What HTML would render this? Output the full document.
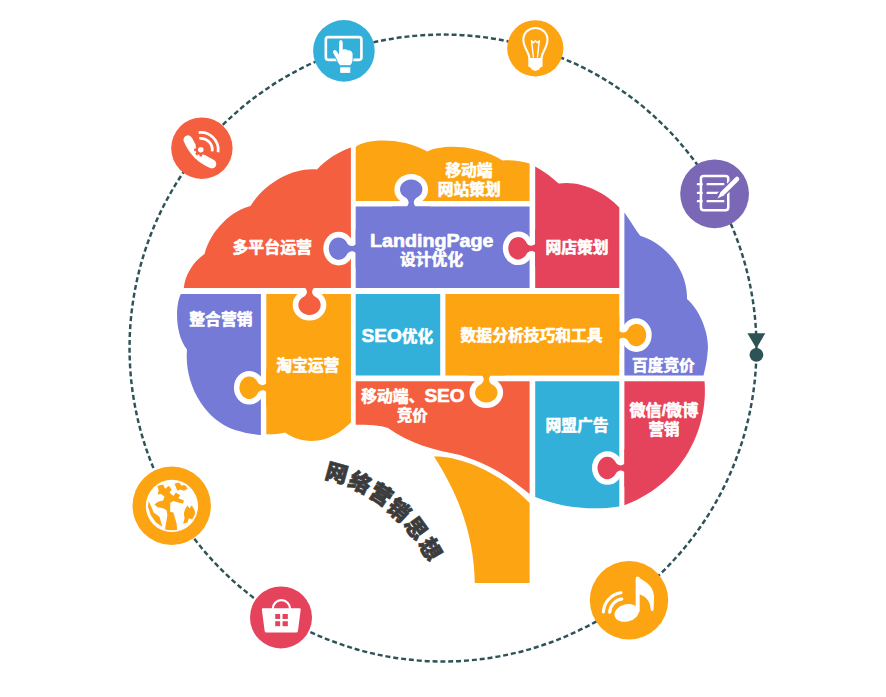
<!DOCTYPE html><html><head><meta charset="utf-8"><title>网络营销思想</title><style>html,body{margin:0;padding:0;background:#fff}svg{display:block}</style></head><body><svg width="886" height="697" viewBox="0 0 886 697">
<rect width="886" height="697" fill="#fff"/>
<circle cx="443.0" cy="348.0" r="313.45" fill="none" stroke="#2D5356" stroke-width="2.45" stroke-dasharray="5 2.9"/>
<path d="M350.9,147.6 C340,151 327,159 317,169.4 C295,167 266,181 250.5,206 C233,210 211,229 204.5,254 C193,262 185,275 183.8,288.0 L350.9,288.0 Z" fill="#F45F40"/>
<path d="M355.7,146.9 C365,139 400,136 427.4,151.4 C445,143 480,146 502.6,160.4 C512,159.5 522,161 529.6,163.5 L529.6,201.0 L355.7,201.0 Z" fill="#FDA412"/>
<path d="M355.7,206.4 H529.6 V288.0 H355.7 Z" fill="#747AD6"/>
<path d="M535.2,166.4 C545,172 553,178 558.7,183.6 C580,180 605,192 619.3,207.5 L619.3,288.0 L535.2,288.0 Z" fill="#E5435B"/>
<path d="M624.4,212.4 C630,220 635,229 640.2,235.8 C665,243 688,270 687,299 C700,310 710,335 707.6,352 C707,362 705,369 703.5,375.6 L624.4,375.6 Z" fill="#747AD6"/>
<path d="M180.9,293.9 C175,305 175,335 187,349.5 C184,385 205,420 235,430 C245,433 253,434.5 260.9,435 L260.9,293.9 Z" fill="#747AD6"/>
<path d="M266.3,293.9 H350.9 V422.6 C340,433 328,441 312,441 C300,441 292,437 285,432.5 C280,434 272,434.5 266.3,434.3 Z" fill="#FDA412"/>
<path d="M355.7,293.9 H440.2 V375.6 H355.7 Z" fill="#33B0DA"/>
<path d="M445.4,293.9 H619.3 V375.6 H445.4 Z" fill="#FDA412"/>
<path d="M355.7,381.2 H529.6 V494 C510,478 490,464 460,455 C435,450 410,444 388,428 C380,425 368,425 355.7,424.8 Z" fill="#F45F40"/>
<path d="M535.2,381.2 H619.3 V506.5 C590,511 560,507 535.2,497 Z" fill="#33B0DA"/>
<path d="M624.4,381.2 H704.5 C708,420 690,480 624.4,505.3 Z" fill="#E5435B"/>
<path d="M434,456.6 C460,456 500,472 529.6,503 V583 H474.8 C474,540 462,500 434,456.6 Z" fill="#FDA412"/>
<ellipse cx="338.70" cy="248.60" rx="15.40" ry="16.80" fill="#fff"/><path d="M358.70,267.40 L355.70,267.40 L355.70,229.80 L358.70,229.80 Z" fill="#747AD6"/><path d="M357.20,252.80 L355.70,252.80 C354.10,251.60 352.90,251.20 351.70,251.20 C350.10,251.20 348.70,252.20 347.40,253.50 A9.80,11.20 0 1 1 347.40,243.70 C348.70,245.00 350.10,246.00 351.70,246.00 C352.90,246.00 354.10,245.60 355.70,244.40 L357.20,244.40 Z" fill="#747AD6"/>
<ellipse cx="411.20" cy="189.40" rx="16.80" ry="15.40" fill="#fff"/><path d="M392.40,209.40 L392.40,206.40 L430.00,206.40 L430.00,209.40 Z" fill="#747AD6"/><path d="M407.00,207.90 L407.00,206.40 C408.20,204.80 408.60,203.60 408.60,202.40 C408.60,200.80 407.60,199.40 406.30,198.10 A9.80,11.20 90 1 1 416.10,198.10 C414.80,199.40 413.80,200.80 413.80,202.40 C413.80,203.60 414.20,204.80 415.40,206.40 L415.40,207.90 Z" fill="#747AD6"/>
<ellipse cx="518.20" cy="248.30" rx="15.40" ry="16.80" fill="#fff"/><path d="M538.20,267.10 L535.20,267.10 L535.20,229.50 L538.20,229.50 Z" fill="#E5435B"/><path d="M536.70,252.50 L535.20,252.50 C533.60,251.30 532.40,250.90 531.20,250.90 C529.60,250.90 528.20,251.90 526.90,253.20 A9.80,11.20 0 1 1 526.90,243.40 C528.20,244.70 529.60,245.70 531.20,245.70 C532.40,245.70 533.60,245.30 535.20,244.10 L536.70,244.10 Z" fill="#E5435B"/>
<ellipse cx="309.50" cy="305.00" rx="16.80" ry="15.40" fill="#fff"/><path d="M328.30,285.00 L328.30,288.00 L290.70,288.00 L290.70,285.00 Z" fill="#F45F40"/><path d="M313.70,286.50 L313.70,288.00 C312.50,289.60 312.10,290.80 312.10,292.00 C312.10,293.60 313.10,295.00 314.40,296.30 A9.80,11.20 90 1 1 304.60,296.30 C305.90,295.00 306.90,293.60 306.90,292.00 C306.90,290.80 306.50,289.60 305.30,288.00 L305.30,286.50 Z" fill="#F45F40"/>
<ellipse cx="249.30" cy="387.75" rx="15.40" ry="16.80" fill="#fff"/><path d="M269.30,406.55 L266.30,406.55 L266.30,368.95 L269.30,368.95 Z" fill="#FDA412"/><path d="M267.80,391.95 L266.30,391.95 C264.70,390.75 263.50,390.35 262.30,390.35 C260.70,390.35 259.30,391.35 258.00,392.65 A9.80,11.20 0 1 1 258.00,382.85 C259.30,384.15 260.70,385.15 262.30,385.15 C263.50,385.15 264.70,384.75 266.30,383.55 L267.80,383.55 Z" fill="#FDA412"/>
<ellipse cx="486.30" cy="392.60" rx="16.80" ry="15.40" fill="#fff"/><path d="M505.10,372.60 L505.10,375.60 L467.50,375.60 L467.50,372.60 Z" fill="#FDA412"/><path d="M490.50,374.10 L490.50,375.60 C489.30,377.20 488.90,378.40 488.90,379.60 C488.90,381.20 489.90,382.60 491.20,383.90 A9.80,11.20 90 1 1 481.40,383.90 C482.70,382.60 483.70,381.20 483.70,379.60 C483.70,378.40 483.30,377.20 482.10,375.60 L482.10,374.10 Z" fill="#FDA412"/>
<ellipse cx="636.30" cy="335.10" rx="15.40" ry="16.80" fill="#fff"/><path d="M616.30,316.30 L619.30,316.30 L619.30,353.90 L616.30,353.90 Z" fill="#FDA412"/><path d="M617.80,330.90 L619.30,330.90 C620.90,332.10 622.10,332.50 623.30,332.50 C624.90,332.50 626.30,331.50 627.60,330.20 A9.80,11.20 0 1 1 627.60,340.00 C626.30,338.70 624.90,337.70 623.30,337.70 C622.10,337.70 620.90,338.10 619.30,339.30 L617.80,339.30 Z" fill="#FDA412"/>
<ellipse cx="607.40" cy="468.00" rx="15.40" ry="16.80" fill="#fff"/><path d="M627.40,486.80 L624.40,486.80 L624.40,449.20 L627.40,449.20 Z" fill="#E5435B"/><path d="M625.90,472.20 L624.40,472.20 C622.80,471.00 621.60,470.60 620.40,470.60 C618.80,470.60 617.40,471.60 616.10,472.90 A9.80,11.20 0 1 1 616.10,463.10 C617.40,464.40 618.80,465.40 620.40,465.40 C621.60,465.40 622.80,465.00 624.40,463.80 L625.90,463.80 Z" fill="#E5435B"/>
<g font-family='"Liberation Sans","Noto Sans CJK SC",sans-serif' font-weight="700" fill="#fff" stroke="#fff" stroke-width="0.6" stroke-linejoin="round">
<text x="272.2" y="247" font-size="15.8" text-anchor="middle" dominant-baseline="central" textLength="79.6" lengthAdjust="spacingAndGlyphs">多平台运营</text>
<text x="469" y="170.7" font-size="15.6" text-anchor="middle" dominant-baseline="central" textLength="47.2" lengthAdjust="spacingAndGlyphs">移动端</text>
<text x="469.3" y="189.3" font-size="15.6" text-anchor="middle" dominant-baseline="central" textLength="63" lengthAdjust="spacingAndGlyphs">网站策划</text>
<text x="431.7" y="247.2" font-size="17.8" text-anchor="middle" textLength="123.4" lengthAdjust="spacingAndGlyphs">LandingPage</text>
<text x="431.6" y="259.7" font-size="15.6" text-anchor="middle" dominant-baseline="central" textLength="63.2" lengthAdjust="spacingAndGlyphs">设计优化</text>
<text x="577" y="247.3" font-size="15.6" text-anchor="middle" dominant-baseline="central" textLength="63.2" lengthAdjust="spacingAndGlyphs">网店策划</text>
<text x="220.9" y="319.5" font-size="15.6" text-anchor="middle" dominant-baseline="central" textLength="63.2" lengthAdjust="spacingAndGlyphs">整合营销</text>
<text x="307.8" y="365.5" font-size="15.6" text-anchor="middle" dominant-baseline="central" textLength="63.2" lengthAdjust="spacingAndGlyphs">淘宝运营</text>
<text x="361.6" y="341.9" font-size="15.6"><tspan font-size="18.4" textLength="40.2" lengthAdjust="spacingAndGlyphs">SEO</tspan><tspan textLength="31.4" lengthAdjust="spacingAndGlyphs">优化</tspan></text>
<text x="531.6" y="335" font-size="15.6" text-anchor="middle" dominant-baseline="central" textLength="142" lengthAdjust="spacingAndGlyphs">数据分析技巧和工具</text>
<text x="663.4" y="365.3" font-size="15.6" text-anchor="middle" dominant-baseline="central" textLength="62.8" lengthAdjust="spacingAndGlyphs">百度竞价</text>
<text x="361.2" y="402.1" font-size="15.6"><tspan textLength="63.2" lengthAdjust="spacingAndGlyphs">移动端、</tspan><tspan font-size="18.4" textLength="40.2" lengthAdjust="spacingAndGlyphs">SEO</tspan></text>
<text x="412.3" y="415.1" font-size="15.6" text-anchor="middle" dominant-baseline="central" textLength="30.8" lengthAdjust="spacingAndGlyphs">竞价</text>
<text x="577" y="425" font-size="15.6" text-anchor="middle" dominant-baseline="central" textLength="63" lengthAdjust="spacingAndGlyphs">网盟广告</text>
<text x="663.9" y="410" font-size="15.6" text-anchor="middle" dominant-baseline="central" textLength="69" lengthAdjust="spacingAndGlyphs">微信/微博</text>
<text x="663.9" y="429.5" font-size="15.6" text-anchor="middle" dominant-baseline="central" textLength="31" lengthAdjust="spacingAndGlyphs">营销</text>
</g>
<g font-family='"Liberation Sans","Noto Sans CJK SC",sans-serif'>
<text transform="translate(336.7,473.4) rotate(15.5)" font-size="22" font-weight="900" fill="#3b3b3b" stroke="#3b3b3b" stroke-width="0.7" text-anchor="middle" dominant-baseline="central">网</text>
<text transform="translate(360.0,483) rotate(25)" font-size="22" font-weight="900" fill="#3b3b3b" stroke="#3b3b3b" stroke-width="0.7" text-anchor="middle" dominant-baseline="central">络</text>
<text transform="translate(380.8,495.0) rotate(33)" font-size="22" font-weight="900" fill="#3b3b3b" stroke="#3b3b3b" stroke-width="0.7" text-anchor="middle" dominant-baseline="central">营</text>
<text transform="translate(398.3,510.6) rotate(43)" font-size="22" font-weight="900" fill="#3b3b3b" stroke="#3b3b3b" stroke-width="0.7" text-anchor="middle" dominant-baseline="central">销</text>
<text transform="translate(415.6,528.6) rotate(54)" font-size="22" font-weight="900" fill="#3b3b3b" stroke="#3b3b3b" stroke-width="0.7" text-anchor="middle" dominant-baseline="central">思</text>
<text transform="translate(429.9,549.3) rotate(60)" font-size="22" font-weight="900" fill="#3b3b3b" stroke="#3b3b3b" stroke-width="0.7" text-anchor="middle" dominant-baseline="central">想</text>
</g>
<circle cx="343.9" cy="50.9" r="30.8" fill="#33B0DA"/>
<circle cx="535.3" cy="48.3" r="28.1" fill="#FDA412"/>
<circle cx="201.9" cy="148.2" r="30.7" fill="#F45F40"/>
<circle cx="714.6" cy="193.8" r="34.4" fill="#7A68B7"/>
<circle cx="171.7" cy="505.8" r="39.2" fill="#FDA412"/>
<circle cx="281" cy="617.4" r="31" fill="#E5435B"/>
<circle cx="629" cy="600.2" r="39.2" fill="#FDA412"/>
<path d="M747.4,333.2 L765.3,333.2 L756.4,348.5 Z" fill="#2D5356"/>
<circle cx="756.4" cy="354.8" r="6.9" fill="#2D5356"/>
<g transform="translate(303,10) scale(0.11477761836441894)">
<rect x="199" y="236" width="310" height="198" rx="22" fill="none" stroke="#fff" stroke-width="23"/>
<path d="M314,285 Q314,262 330,262 Q346,262 346,285 L346,345 Q375,335 392,352 Q420,348 432,378 L432,440 Q430,462 412,482 L412,500 L322,500 L322,482 Q300,455 290,420 L262,372 Q256,352 274,348 Q286,346 296,362 L314,390 Z" fill="#fff" stroke="#33B0DA" stroke-width="14" stroke-linejoin="round"/>
<path d="M314,285 Q314,262 330,262 Q346,262 346,285 L346,345 Q375,335 392,352 Q420,348 432,378 L432,440 Q430,462 412,482 L412,500 L322,500 L322,482 Q300,455 290,420 L262,372 Q256,352 274,348 Q286,346 296,362 L314,390 Z" fill="#fff"/>
<rect x="318" y="478" width="98" height="22" fill="#33B0DA"/>
<rect x="322" y="455" width="90" height="26" fill="#fff"/>
<rect x="324" y="500" width="88" height="48" fill="#fff"/>
</g>
<g transform="translate(495,10) scale(0.11477761836441894)" fill="none" stroke="#fff">
<path d="M300,425 C300,370 247,330 247,258 C247,200 294,157 352,157 C410,157 457,200 457,258 C457,330 405,370 405,425" stroke-width="18"/>
<path d="M335,415 L318,268 L335,285 L352,268 L369,285 L386,268 L369,415" stroke-width="12" stroke-linejoin="round"/>
<path d="M290,418 H414 V492 L395,500 L385,518 L352,532 L319,518 L309,500 L290,492 Z" fill="#fff" stroke="none"/>
</g>
<g transform="translate(162,110) scale(0.11477761836441894)">
<path d="M226,260 Q290,410 434,470" fill="none" stroke="#fff" stroke-width="78" stroke-linecap="round"/>
<g transform="translate(338,347)" fill="#F45F40"><circle r="46"/><rect x="-11" y="-58" width="22" height="24" transform="rotate(0)" /><rect x="-11" y="-58" width="22" height="24" transform="rotate(45)" /><rect x="-11" y="-58" width="22" height="24" transform="rotate(90)" /><rect x="-11" y="-58" width="22" height="24" transform="rotate(135)" /><rect x="-11" y="-58" width="22" height="24" transform="rotate(180)" /><rect x="-11" y="-58" width="22" height="24" transform="rotate(225)" /><rect x="-11" y="-58" width="22" height="24" transform="rotate(270)" /><rect x="-11" y="-58" width="22" height="24" transform="rotate(315)" /><circle r="24" fill="#fff"/></g>
<path d="M325.8,247.7 A100,100 0 0 1 437.0,360.9" fill="none" stroke="#fff" stroke-width="24"/>
<path d="M319.5,196.1 A152,152 0 0 1 488.5,368.2" fill="none" stroke="#fff" stroke-width="24"/>
</g>
<g transform="translate(675,153) scale(0.11477761836441894)">
<rect x="226" y="201" width="238" height="298" rx="24" fill="none" stroke="#fff" stroke-width="22"/>
<rect x="190" y="262" width="52" height="20" rx="8" fill="#fff"/>
<rect x="275" y="262" width="155" height="20" rx="6" fill="#fff"/>
<rect x="190" y="338" width="52" height="20" rx="8" fill="#fff"/>
<rect x="275" y="338" width="155" height="20" rx="6" fill="#fff"/>
<rect x="190" y="410" width="52" height="20" rx="8" fill="#fff"/>
<rect x="275" y="410" width="155" height="20" rx="6" fill="#fff"/>
<path d="M545,222 L398,369" stroke="#7A68B7" stroke-width="66" stroke-linecap="round"/>
<path d="M540,227 L412,355" stroke="#fff" stroke-width="40" stroke-linecap="round"/>
<path d="M398,341 L426,369 L370,397 Z" fill="#fff"/>
</g>
<g transform="translate(120,455) scale(0.14347202295552366)">
<circle cx="362" cy="355" r="182" fill="#fff"/>
<clipPath id="gc"><circle cx="362" cy="355" r="170"/></clipPath>
<g clip-path="url(#gc)" fill="#FDA412">
<path d="M258,215 L300,205 L315,235 L340,215 L360,240 L345,262 L372,285 L390,262 L420,282 L405,300 L445,318 L440,338 L400,330 L372,320 L350,335 L350,395 L372,400 L395,480 L400,540 L310,540 L330,420 L325,385 L300,372 L262,365 L240,345 L265,325 L300,318 L310,290 L285,272 L262,275 L270,245 Z"/>
<path d="M200,320 L235,400 L275,430 L295,500 L250,470 L215,420 L195,360 Z"/>
<path d="M455,375 L470,352 L485,372 L500,350 L520,385 L525,420 L505,450 L480,440 L470,470 L440,480 L450,440 L445,405 Z"/>
<path d="M380,200 L410,190 L430,215 L455,205 L470,235 L445,250 L420,240 L400,250 Z"/>
</g></g>
<g transform="translate(241,579) scale(0.11477761836441894)">
<path d="M276,262 A76,78 0 0 1 428,262" fill="none" stroke="#fff" stroke-width="19"/>
<path d="M192,255 H510 Q522,255 520,268 L496,452 Q494,467 480,467 H222 Q208,467 206,452 L182,268 Q180,255 192,255 Z" fill="#fff"/>
<rect x="298" y="305" width="43" height="43" fill="#E5435B"/>
<rect x="298" y="368" width="43" height="43" fill="#E5435B"/>
<rect x="362" y="305" width="46" height="43" fill="#E5435B"/>
<rect x="362" y="368" width="46" height="43" fill="#E5435B"/>
</g>
<g transform="translate(580,552) scale(0.14347202295552366)">
<ellipse cx="325" cy="425" rx="86" ry="60" transform="rotate(-14 325 425)" fill="#fff"/>
<rect x="388" y="172" width="28" height="250" rx="10" fill="#fff"/>
<path d="M402,172 C440,200 512,225 516,310 L513,400 Q512,412 503,412 Q494,412 493,400 C490,350 470,312 410,292 Z" fill="#fff"/>
<path d="M207.1,419.9 A98,98 0 0 1 291.4,328.0" fill="none" stroke="#fff" stroke-width="22" stroke-linecap="round"/>
<path d="M163.2,417.6 A142,142 0 0 1 285.2,284.4" fill="none" stroke="#fff" stroke-width="22" stroke-linecap="round"/>
</g>
</svg></body></html>
